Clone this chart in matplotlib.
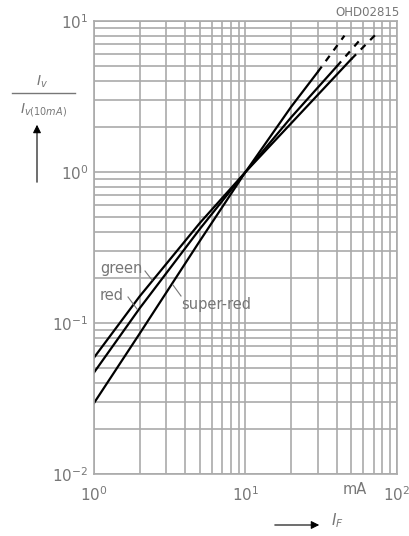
import matplotlib
matplotlib.use('Agg')
import matplotlib.pyplot as plt
import numpy as np

# forward current (mA) and relative luminous intensity
green_if = [1, 2, 5, 10, 20, 50]
green_iv = [0.059, 0.15, 0.46, 1.0, 2.1, 5.6]
green_if_dash = [50, 72]
green_iv_dash = [5.6, 8.1]

red_if = [1, 2, 5, 10, 20, 40]
red_iv = [0.047, 0.125, 0.42, 1.0, 2.3, 5.0]
red_if_dash = [40, 59]
red_iv_dash = [5.0, 7.8]

sred_if = [1, 2, 5, 10, 20, 30]
sred_iv = [0.0295, 0.085, 0.35, 1.0, 2.7, 4.6]
sred_if_dash = [30, 45]
sred_iv_dash = [4.6, 8.0]

GRID = '#aaaaaa'
TXT = '#777777'

# axes box in pixels (left, right, top, bottom) of the 410x536 picture
X0, X1, Y0, Y1 = 94, 397, 21, 474


# pixel position -> data coordinates (log axes, 2 decades in x, 3 in y)
def px(x, y):
    return (10 ** (2 * (x - X0) / (X1 - X0)),
            10 ** (1 - 3 * (y - Y0) / (Y1 - Y0)))


def main():
    fig = plt.figure(figsize=(4.10, 5.36), dpi=100)
    ax = fig.add_axes([X0 / 410, 1 - Y1 / 536, (X1 - X0) / 410, (Y1 - Y0) / 536])
    ax.set_xscale('log')
    ax.set_yscale('log')
    ax.set_xlim(1, 100)
    ax.set_ylim(0.01, 10)

    # grid on every decade step
    ax.grid(True, which='both', color=GRID, linewidth=1.2)
    ax.set_axisbelow(True)
    for s in ax.spines.values():
        s.set_color(GRID)
        s.set_linewidth(1.2)
    ax.tick_params(which='both', length=0, colors=TXT, labelsize=11)
    ax.yaxis.set_minor_formatter(plt.NullFormatter())
    ax.xaxis.set_minor_formatter(plt.NullFormatter())
    ax.set_yticks([0.01, 0.1, 1, 10])
    ax.set_yticklabels(['$10^{-2}$', '$10^{-1}$', '$10^{0}$', '$10^{1}$'])
    ax.set_xticks([1, 10, 100])
    ax.set_xticklabels(['$10^{0}$', '$10^{1}$', '$10^{2}$'])
    ax.tick_params(axis='y', pad=4)
    ax.tick_params(axis='x', pad=8)

    # curves, dashed above the rated current
    for xs, ys, xd, yd in [(green_if, green_iv, green_if_dash, green_iv_dash),
                           (red_if, red_iv, red_if_dash, red_iv_dash),
                           (sred_if, sred_iv, sred_if_dash, sred_iv_dash)]:
        ax.plot(xs, ys, color='black', linewidth=1.6)
        ax.plot(xd, yd, color='black', linewidth=1.6, linestyle=(0, (3, 3)))

    # curve labels with short leader lines
    ax.text(*px(100, 268), 'green', fontsize=10.5, color=TXT, va='center')
    (a, b), (c, d) = px(145, 271), px(152, 280)
    ax.plot([a, c], [b, d], color=TXT, linewidth=0.8)
    ax.text(*px(100, 295), 'red', fontsize=10.5, color=TXT, va='center')
    (a, b), (c, d) = px(128, 297), px(137, 309)
    ax.plot([a, c], [b, d], color=TXT, linewidth=0.8)
    ax.text(*px(181, 304), 'super-red', fontsize=10.5, color=TXT, va='center')
    (a, b), (c, d) = px(173, 285), px(181, 296)
    ax.plot([a, c], [b, d], color=TXT, linewidth=0.8)

    # units and ids
    fig.text(343 / 410, 1 - 490 / 536, 'mA', fontsize=10.5, color=TXT, va='center')
    fig.text(400 / 410, 1 - 12 / 536, 'OHD02815', fontsize=8.5, color=TXT,
             ha='right', va='center')

    # y label as a fraction with an upward arrow
    fig.text(42 / 410, 1 - 82 / 536, '$I_v$', fontsize=10, color=TXT,
             ha='center', va='center')
    fig.add_artist(plt.Line2D([12 / 410, 75 / 410], [1 - 93 / 536, 1 - 93 / 536],
                              color=TXT, linewidth=1))
    fig.text(44 / 410, 1 - 110 / 536, '$I_{v(10mA)}$', fontsize=10, color=TXT,
             ha='center', va='center')
    ax.annotate('', xy=(37 / 410, 1 - 122 / 536), xytext=(37 / 410, 1 - 185 / 536),
                xycoords='figure fraction',
                arrowprops=dict(arrowstyle='-|>', color='black', lw=0.8,
                                mutation_scale=12))

    # x label with arrow
    ax.annotate('', xy=(322 / 410, 1 - 525 / 536), xytext=(272 / 410, 1 - 525 / 536),
                xycoords='figure fraction',
                arrowprops=dict(arrowstyle='-|>', color='black', lw=0.8,
                                mutation_scale=12))
    fig.text(331 / 410, 1 - 521 / 536, '$I_F$', fontsize=11, color=TXT, va='center')

    fig.savefig('out.png', dpi=100, facecolor='white')


if __name__ == "__main__": main()
